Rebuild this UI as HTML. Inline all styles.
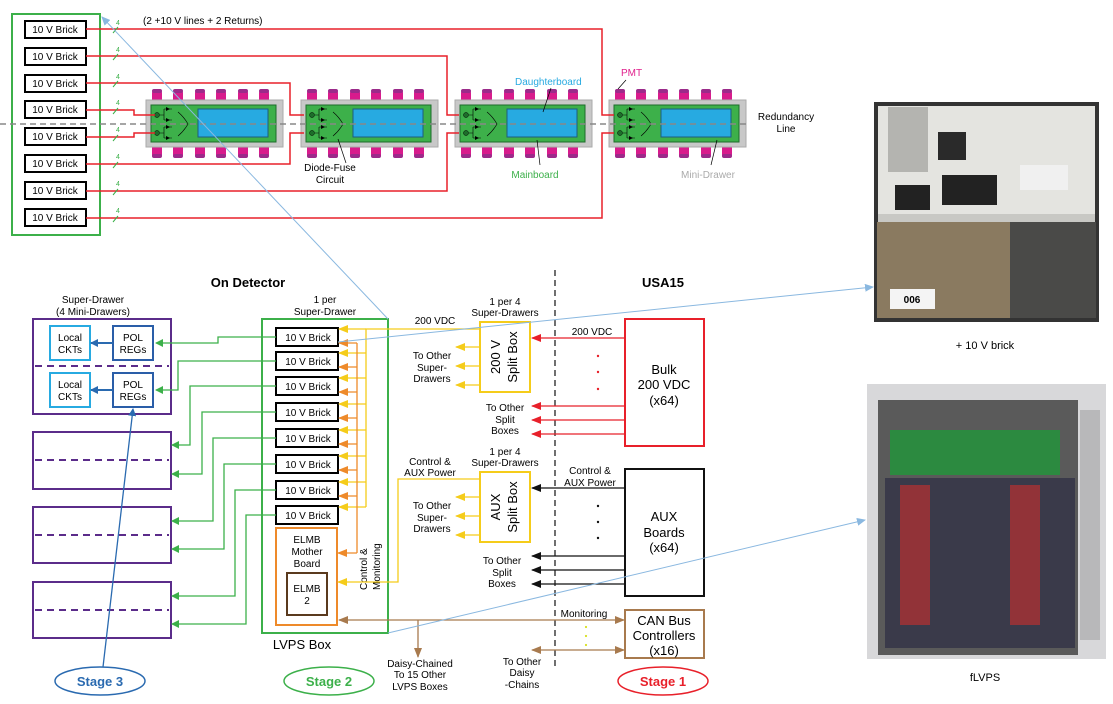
<!DOCTYPE html>
<html><head><meta charset="utf-8"><style>
body{margin:0;background:#fff;}
svg{display:block;font-family:"Liberation Sans",sans-serif;}
</style></head><body>
<svg width="1113" height="704" viewBox="0 0 1113 704" xmlns="http://www.w3.org/2000/svg">
<defs>
<marker id="aG" markerWidth="8" markerHeight="8" refX="7" refY="4" orient="auto" markerUnits="userSpaceOnUse"><path d="M0,0 L8,4 L0,8z" fill="#3cb04a"/></marker>
<marker id="aY" markerWidth="10" markerHeight="8" refX="9" refY="4" orient="auto" markerUnits="userSpaceOnUse"><path d="M0,0 L10,4 L0,8z" fill="#f5cc1a"/></marker>
<marker id="aO" markerWidth="10" markerHeight="8" refX="9" refY="4" orient="auto" markerUnits="userSpaceOnUse"><path d="M0,0 L10,4 L0,8z" fill="#ee8a2a"/></marker>
<marker id="aR" markerWidth="10" markerHeight="8" refX="9" refY="4" orient="auto" markerUnits="userSpaceOnUse"><path d="M0,0 L10,4 L0,8z" fill="#e8202a"/></marker>
<marker id="aK" markerWidth="10" markerHeight="8" refX="9" refY="4" orient="auto" markerUnits="userSpaceOnUse"><path d="M0,0 L10,4 L0,8z" fill="#111"/></marker>
<marker id="aN" markerWidth="10" markerHeight="8" refX="9" refY="4" orient="auto" markerUnits="userSpaceOnUse"><path d="M0,0 L10,4 L0,8z" fill="#a87a4e"/></marker>
<marker id="aNs" markerWidth="10" markerHeight="8" refX="1" refY="4" orient="auto" markerUnits="userSpaceOnUse"><path d="M10,0 L0,4 L10,8z" fill="#a87a4e"/></marker>
<marker id="aB" markerWidth="8" markerHeight="8" refX="7" refY="4" orient="auto" markerUnits="userSpaceOnUse"><path d="M0,0 L8,4 L0,8z" fill="#2a6ab0"/></marker>
<marker id="aL" markerWidth="9" markerHeight="8" refX="8" refY="4" orient="auto" markerUnits="userSpaceOnUse"><path d="M0,0 L9,4 L0,8z" fill="#8ab8e0"/></marker>
<g id="md">
 <g fill="#d81b8c">
  <rect x="152" y="91" width="10" height="11" rx="2"/><rect x="173" y="91" width="10" height="11" rx="2"/><rect x="195" y="91" width="10" height="11" rx="2"/><rect x="216" y="91" width="10" height="11" rx="2"/><rect x="238" y="91" width="10" height="11" rx="2"/><rect x="259" y="91" width="10" height="11" rx="2"/>
  <rect x="152" y="146" width="10" height="11" rx="2"/><rect x="173" y="146" width="10" height="11" rx="2"/><rect x="195" y="146" width="10" height="11" rx="2"/><rect x="216" y="146" width="10" height="11" rx="2"/><rect x="238" y="146" width="10" height="11" rx="2"/><rect x="259" y="146" width="10" height="11" rx="2"/>
 </g>
 <g fill="#9b2a8a"><rect x="152" y="89" width="10" height="4" rx="2"/><rect x="173" y="89" width="10" height="4" rx="2"/><rect x="195" y="89" width="10" height="4" rx="2"/><rect x="216" y="89" width="10" height="4" rx="2"/><rect x="238" y="89" width="10" height="4" rx="2"/><rect x="259" y="89" width="10" height="4" rx="2"/>
 <rect x="152" y="154" width="10" height="4" rx="2"/><rect x="173" y="154" width="10" height="4" rx="2"/><rect x="195" y="154" width="10" height="4" rx="2"/><rect x="216" y="154" width="10" height="4" rx="2"/><rect x="238" y="154" width="10" height="4" rx="2"/><rect x="259" y="154" width="10" height="4" rx="2"/></g>
 <rect x="146" y="100" width="137" height="47" fill="#c8c8c8" stroke="#aaa"/>
 <rect x="151" y="105" width="125" height="37" fill="#3db04a" stroke="#1d6d2a"/>
 <rect x="198" y="109" width="70" height="28" fill="#27aae1" stroke="#1d5d80"/>
 <circle cx="157" cy="115" r="2.5" fill="#1d6d2a" stroke="#000" stroke-width=".5"/><circle cx="157" cy="133" r="2.5" fill="#1d6d2a" stroke="#000" stroke-width=".5"/>
 <g stroke="#000" stroke-width=".6" fill="none"><path d="M160,115 h4 M164,109 v11 M164,109 h8 M164,120 h8 M160,133 h4 M164,127 v11 M164,127 h8 M164,138 h8 M178,112 q6,5 10,12 q-4,7 -10,12"/></g>
 <g fill="#000"><path d="M166,107 l4,2 l-4,2z M166,118 l4,2 l-4,2z M166,125 l4,2 l-4,2z M166,136 l4,2 l-4,2z"/></g>
</g>
</defs>

<rect x="12" y="14" width="88" height="221" fill="none" stroke="#3cb04a" stroke-width="2"/>
<g font-size="10" text-anchor="middle">
<g fill="#fff" stroke="#000" stroke-width="2">
<rect x="25" y="21" width="61" height="17"/><rect x="25" y="48" width="61" height="17"/><rect x="25" y="75" width="61" height="17"/><rect x="25" y="101" width="61" height="17"/><rect x="25" y="128" width="61" height="17"/><rect x="25" y="155" width="61" height="17"/><rect x="25" y="182" width="61" height="17"/><rect x="25" y="209" width="61" height="17"/>
</g>
<text x="55" y="33">10 V Brick</text><text x="55" y="60">10 V Brick</text><text x="55" y="87">10 V Brick</text><text x="55" y="113">10 V Brick</text><text x="55" y="140">10 V Brick</text><text x="55" y="167">10 V Brick</text><text x="55" y="194">10 V Brick</text><text x="55" y="221">10 V Brick</text>
</g>
<use href="#md"/><use href="#md" x="155"/><use href="#md" x="309"/><use href="#md" x="463"/>
<line x1="0" y1="124" x2="748" y2="124" stroke="#888" stroke-width="1.5" stroke-dasharray="6,4"/>
<g stroke="#e8202a" stroke-width="1.5" fill="none">
<path d="M86,29 H602 V115 H614"/><path d="M86,56 H447 V115 H459"/><path d="M86,83 H290 V115 H304"/><path d="M86,110 H134 V115 H155"/>
<path d="M86,137 H134 V133 H155"/><path d="M86,164 H290 V133 H304"/><path d="M86,191 H447 V133 H459"/><path d="M86,218 H602 V133 H614"/>
</g>
<g stroke="#3cb04a" stroke-width="1" font-size="7" fill="#3cb04a">
<path d="M113,33 l5,-6 M113,60 l5,-6 M113,87 l5,-6 M113,114 l5,-6 M113,141 l5,-6 M113,168 l5,-6 M113,195 l5,-6 M113,222 l5,-6"/>
<text x="116" y="25" stroke="none">4</text><text x="116" y="52" stroke="none">4</text><text x="116" y="79" stroke="none">4</text><text x="116" y="105" stroke="none">4</text><text x="116" y="132" stroke="none">4</text><text x="116" y="159" stroke="none">4</text><text x="116" y="186" stroke="none">4</text><text x="116" y="213" stroke="none">4</text>
</g>
<text x="143" y="24" font-size="10">(2 +10 V lines + 2 Returns)</text>
<text x="515" y="85" font-size="10" fill="#27aae1">Daughterboard</text>
<text x="621" y="76" font-size="10" fill="#e0208c">PMT</text>
<text x="330" y="171" font-size="10" text-anchor="middle">Diode-Fuse</text><text x="330" y="183" font-size="10" text-anchor="middle">Circuit</text>
<text x="535" y="178" font-size="10" fill="#3cb04a" text-anchor="middle">Mainboard</text>
<text x="708" y="178" font-size="10" fill="#aaa" text-anchor="middle">Mini-Drawer</text>
<text x="786" y="120" font-size="10" text-anchor="middle">Redundancy</text><text x="786" y="132" font-size="10" text-anchor="middle">Line</text>
<g stroke="#000" stroke-width=".7"><line x1="543" y1="112" x2="551" y2="88"/><line x1="537" y1="140" x2="540" y2="165"/><line x1="618" y1="89" x2="626" y2="80"/><line x1="717" y1="140" x2="711" y2="165"/><line x1="338" y1="139" x2="346" y2="163"/></g>

<text x="248" y="287" font-size="13" font-weight="bold" text-anchor="middle">On Detector</text>
<text x="663" y="287" font-size="13" font-weight="bold" text-anchor="middle">USA15</text>
<line x1="555" y1="270" x2="555" y2="667" stroke="#222" stroke-width="1.3" stroke-dasharray="6,4"/>
<g font-size="10" text-anchor="middle">
<text x="93" y="303">Super-Drawer</text><text x="93" y="315">(4 Mini-Drawers)</text>
<text x="325" y="303">1 per</text><text x="325" y="315">Super-Drawer</text>
</g>
<g fill="none" stroke="#5b2c8a" stroke-width="2">
<rect x="33" y="319" width="138" height="95"/><rect x="33" y="432" width="138" height="57"/><rect x="33" y="507" width="138" height="56"/><rect x="33" y="582" width="138" height="56"/>
<g stroke-dasharray="7,5"><line x1="35" y1="366" x2="169" y2="366"/><line x1="35" y1="460" x2="169" y2="460"/><line x1="35" y1="535" x2="169" y2="535"/><line x1="35" y1="610" x2="169" y2="610"/></g>
</g>
<g font-size="10" text-anchor="middle">
<rect x="50" y="326" width="40" height="34" fill="#fff" stroke="#27aae1" stroke-width="2"/><rect x="50" y="373" width="40" height="34" fill="#fff" stroke="#27aae1" stroke-width="2"/>
<rect x="113" y="326" width="40" height="34" fill="#fff" stroke="#2a5ea8" stroke-width="2"/><rect x="113" y="373" width="40" height="34" fill="#fff" stroke="#2a5ea8" stroke-width="2"/>
<text x="70" y="341">Local</text><text x="70" y="353">CKTs</text><text x="70" y="388">Local</text><text x="70" y="400">CKTs</text>
<text x="133" y="341">POL</text><text x="133" y="353">REGs</text><text x="133" y="388">POL</text><text x="133" y="400">REGs</text>
</g>
<g stroke="#2a6ab0" stroke-width="2" marker-end="url(#aB)"><line x1="113" y1="343" x2="91" y2="343"/><line x1="113" y1="390" x2="91" y2="390"/></g>
<rect x="262" y="319" width="126" height="314" fill="none" stroke="#3cb04a" stroke-width="2"/>
<g font-size="10" text-anchor="middle">
<g fill="#fff" stroke="#000" stroke-width="2">
<rect x="276" y="328" width="62" height="18"/><rect x="276" y="352" width="62" height="18"/><rect x="276" y="377" width="62" height="18"/><rect x="276" y="403" width="62" height="18"/><rect x="276" y="429" width="62" height="18"/><rect x="276" y="455" width="62" height="18"/><rect x="276" y="481" width="62" height="18"/><rect x="276" y="506" width="62" height="18"/>
</g>
<text x="308" y="341">10 V Brick</text><text x="308" y="365">10 V Brick</text><text x="308" y="390">10 V Brick</text><text x="308" y="416">10 V Brick</text><text x="308" y="442">10 V Brick</text><text x="308" y="468">10 V Brick</text><text x="308" y="494">10 V Brick</text><text x="308" y="519">10 V Brick</text>
<rect x="276" y="528" width="61" height="97" fill="#fff" stroke="#ee8a2a" stroke-width="2"/>
<text x="307" y="543">ELMB</text><text x="307" y="555">Mother</text><text x="307" y="567">Board</text>
<rect x="287" y="573" width="40" height="42" fill="#fff" stroke="#5a3a1e" stroke-width="2"/>
<text x="307" y="592">ELMB</text><text x="307" y="604">2</text>
</g>
<text x="302" y="649" font-size="13" text-anchor="middle">LVPS Box</text>
<g stroke="#3cb04a" stroke-width="1.3" fill="none" marker-end="url(#aG)">
<path d="M276,337 H218 V343 H156"/><path d="M276,361 H178 V390 H156"/>
<path d="M276,386 H190 V445 H172"/><path d="M276,412 H202 V474 H172"/>
<path d="M276,438 H213 V521 H172"/><path d="M276,464 H224 V549 H172"/>
<path d="M276,490 H235 V596 H172"/><path d="M276,515 H246 V624 H172"/>
</g>
<g stroke="#f5cc1a" stroke-width="1.3" fill="none">
<path d="M480,329 H366 V507"/>
</g>
<g stroke="#f5cc1a" stroke-width="1.3" marker-end="url(#aY)">
<line x1="366" y1="329" x2="339" y2="329"/><line x1="366" y1="353" x2="339" y2="353"/><line x1="366" y1="378" x2="339" y2="378"/><line x1="366" y1="404" x2="339" y2="404"/><line x1="366" y1="430" x2="339" y2="430"/><line x1="366" y1="456" x2="339" y2="456"/><line x1="366" y1="482" x2="339" y2="482"/><line x1="366" y1="507" x2="339" y2="507"/>
</g>
<line x1="357" y1="343" x2="357" y2="553" stroke="#ee8a2a" stroke-width="1.3"/>
<g stroke="#ee8a2a" stroke-width="1.3" marker-end="url(#aO)">
<line x1="357" y1="343" x2="339" y2="343"/><line x1="357" y1="367" x2="339" y2="367"/><line x1="357" y1="392" x2="339" y2="392"/><line x1="357" y1="418" x2="339" y2="418"/><line x1="357" y1="444" x2="339" y2="444"/><line x1="357" y1="470" x2="339" y2="470"/><line x1="357" y1="496" x2="339" y2="496"/><line x1="357" y1="553" x2="338" y2="553"/>
</g>
<text transform="translate(367,590) rotate(-90)" font-size="10">Control &amp;</text>
<text transform="translate(380,590) rotate(-90)" font-size="10">Monitoring</text>
<path d="M480,479 H398 V582 H338" stroke="#f5cc1a" stroke-width="1.3" fill="none" marker-end="url(#aY)"/>
<g font-size="10" text-anchor="middle">
<text x="435" y="324">200 VDC</text>
<text x="505" y="305">1 per 4</text><text x="505" y="316">Super-Drawers</text>
<rect x="480" y="322" width="50" height="70" fill="#fff" stroke="#f5cc1a" stroke-width="2"/>
<text transform="translate(500,357) rotate(-90)" font-size="13">200 V</text>
<text transform="translate(517,357) rotate(-90)" font-size="13">Split Box</text>
<text x="432" y="359">To Other</text><text x="432" y="371">Super-</text><text x="432" y="382">Drawers</text>
<text x="505" y="455">1 per 4</text><text x="505" y="466">Super-Drawers</text>
<text x="430" y="465">Control &amp;</text><text x="430" y="476">AUX Power</text>
<rect x="480" y="472" width="50" height="70" fill="#fff" stroke="#f5cc1a" stroke-width="2"/>
<text transform="translate(500,507) rotate(-90)" font-size="13">AUX</text>
<text transform="translate(517,507) rotate(-90)" font-size="13">Split Box</text>
<text x="432" y="509">To Other</text><text x="432" y="521">Super-</text><text x="432" y="532">Drawers</text>
<text x="505" y="411">To Other</text><text x="505" y="423">Split</text><text x="505" y="434">Boxes</text>
<text x="502" y="564">To Other</text><text x="502" y="576">Split</text><text x="502" y="587">Boxes</text>
<text x="592" y="335">200 VDC</text>
<text x="590" y="474">Control &amp;</text><text x="590" y="486">AUX Power</text>
</g>
<g stroke="#f5cc1a" stroke-width="1.3" marker-end="url(#aY)">
<line x1="480" y1="347" x2="456" y2="347"/><line x1="480" y1="366" x2="456" y2="366"/><line x1="480" y1="385" x2="456" y2="385"/>
<line x1="480" y1="497" x2="456" y2="497"/><line x1="480" y1="516" x2="456" y2="516"/><line x1="480" y1="535" x2="456" y2="535"/>
</g>
<rect x="625" y="319" width="79" height="127" fill="#fff" stroke="#e8202a" stroke-width="2"/>
<g font-size="13" text-anchor="middle"><text x="664" y="374">Bulk</text><text x="664" y="389">200 VDC</text><text x="664" y="405">(x64)</text>
<rect x="625" y="469" width="79" height="127" fill="#fff" stroke="#111" stroke-width="2"/>
<text x="664" y="521">AUX</text><text x="664" y="537">Boards</text><text x="664" y="552">(x64)</text>
<rect x="625" y="610" width="79" height="48" fill="#fff" stroke="#a87a4e" stroke-width="2"/>
<text x="664" y="625">CAN Bus</text><text x="664" y="640">Controllers</text><text x="664" y="655">(x16)</text></g>
<g stroke="#e8202a" stroke-width="1.3" marker-end="url(#aR)">
<line x1="625" y1="338" x2="532" y2="338"/><line x1="625" y1="406" x2="532" y2="406"/><line x1="625" y1="420" x2="532" y2="420"/><line x1="625" y1="434" x2="532" y2="434"/>
</g>
<g fill="#e8202a"><circle cx="598" cy="356" r="1.2"/><circle cx="598" cy="372" r="1.2"/><circle cx="598" cy="389" r="1.2"/></g>
<g stroke="#111" stroke-width="1.3" marker-end="url(#aK)">
<line x1="625" y1="488" x2="532" y2="488"/><line x1="625" y1="556" x2="532" y2="556"/><line x1="625" y1="570" x2="532" y2="570"/><line x1="625" y1="584" x2="532" y2="584"/>
</g>
<g fill="#111"><circle cx="598" cy="506" r="1.2"/><circle cx="598" cy="522" r="1.2"/><circle cx="598" cy="538" r="1.2"/></g>
<line x1="624" y1="620" x2="339" y2="620" stroke="#a87a4e" stroke-width="1.3" marker-start="url(#aNs)" marker-end="url(#aN)"/>
<line x1="418" y1="620" x2="418" y2="657" stroke="#a87a4e" stroke-width="1.3" marker-end="url(#aN)"/>
<line x1="532" y1="650" x2="624" y2="650" stroke="#a87a4e" stroke-width="1.3" marker-start="url(#aNs)" marker-end="url(#aN)"/>
<g fill="#d8e020"><circle cx="586" cy="627" r="1.1"/><circle cx="586" cy="636" r="1.1"/><circle cx="586" cy="645" r="1.1"/></g>
<g font-size="10" text-anchor="middle">
<text x="584" y="617">Monitoring</text>
<text x="420" y="667">Daisy-Chained</text><text x="420" y="678">To 15 Other</text><text x="420" y="690">LVPS Boxes</text>
<text x="522" y="665">To Other</text><text x="522" y="676">Daisy</text><text x="522" y="688">-Chains</text>
</g>
<ellipse cx="100" cy="681" rx="45" ry="14" fill="#fff" stroke="#2a6ab0" stroke-width="1.5"/>
<text x="100" y="686" font-size="13" font-weight="bold" fill="#2a6ab0" text-anchor="middle">Stage 3</text>
<ellipse cx="329" cy="681" rx="45" ry="14" fill="#fff" stroke="#3cb04a" stroke-width="1.5"/>
<text x="329" y="686" font-size="13" font-weight="bold" fill="#3cb04a" text-anchor="middle">Stage 2</text>
<ellipse cx="663" cy="681" rx="45" ry="14" fill="#fff" stroke="#e8202a" stroke-width="1.5"/>
<text x="663" y="686" font-size="13" font-weight="bold" fill="#e8202a" text-anchor="middle">Stage 1</text>
<line x1="103" y1="667" x2="133" y2="409" stroke="#2a6ab0" stroke-width="1.3" marker-end="url(#aB)"/>
<g stroke="#8ab8e0" stroke-width="1" fill="none">
<line x1="388" y1="319" x2="102" y2="17" marker-end="url(#aL)"/>
<line x1="338" y1="342" x2="873" y2="287" marker-end="url(#aL)"/>
<line x1="388" y1="633" x2="865" y2="520" marker-end="url(#aL)"/>
</g>
<rect x="876" y="104" width="221" height="216" fill="#c8c8c4"/>
<rect x="876" y="104" width="221" height="110" fill="#e4e4e0"/>
<rect x="876" y="104" width="221" height="216" fill="none" stroke="#333" stroke-width="4"/>
<rect x="877" y="222" width="133" height="96" fill="#8a7a60"/>
<rect x="1010" y="222" width="86" height="96" fill="#4a4a48"/>
<rect x="888" y="107" width="40" height="65" fill="#b4b4b0"/>
<rect x="938" y="132" width="28" height="28" fill="#2a2a2a"/>
<rect x="1020" y="165" width="48" height="25" fill="#f0f0f0"/>
<rect x="895" y="185" width="35" height="25" fill="#222"/>
<rect x="942" y="175" width="55" height="30" fill="#222"/>
<rect x="890" y="289" width="45" height="20" fill="#f4f4f4"/>
<text x="912" y="303" font-size="10" font-weight="bold" text-anchor="middle">006</text>
<text x="985" y="349" font-size="11" text-anchor="middle">+ 10 V brick</text>
<rect x="867" y="384" width="239" height="275" fill="#d8d8da"/>
<rect x="878" y="400" width="200" height="255" fill="#5a5a5a"/>
<rect x="890" y="430" width="170" height="45" fill="#2c8a40"/>
<rect x="885" y="478" width="190" height="170" fill="#3a3a4a"/>
<rect x="900" y="485" width="30" height="140" fill="#b83030" opacity=".7"/>
<rect x="1010" y="485" width="30" height="140" fill="#b83030" opacity=".7"/>
<rect x="1080" y="410" width="20" height="230" fill="#b8b8ba"/>
<text x="985" y="681" font-size="11" text-anchor="middle">fLVPS</text>
</svg>
</body></html>
